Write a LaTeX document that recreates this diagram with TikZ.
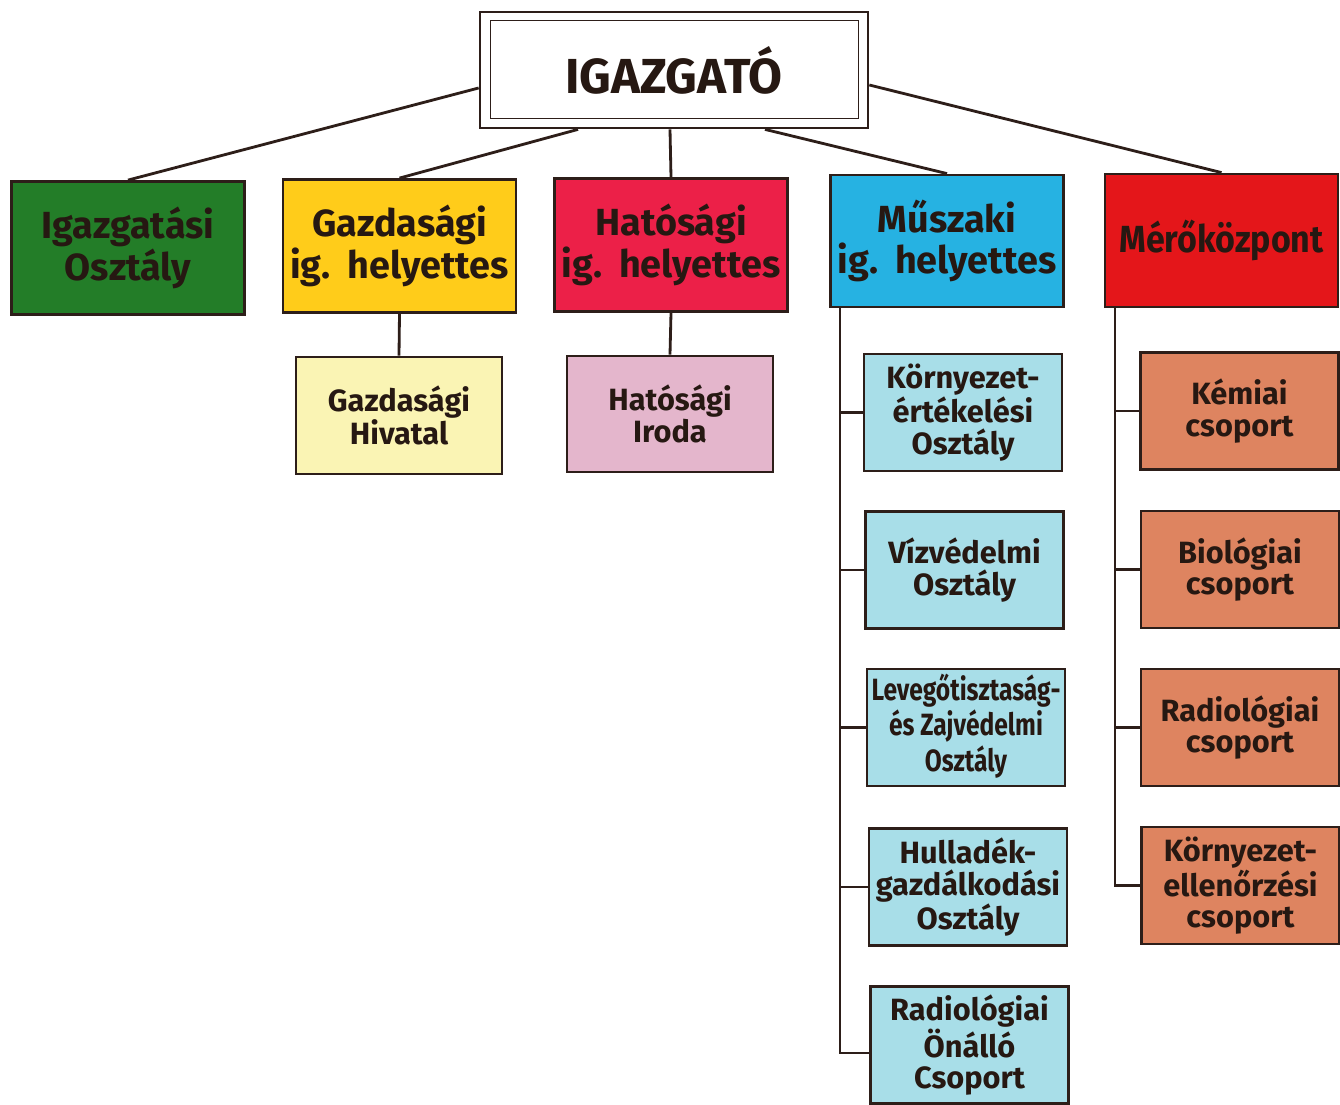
\documentclass[tikz,border=0pt]{standalone}
\usepackage{fontspec}
\setmainfont{Fira Sans}
\usepackage{graphicx}
\definecolor{bordc}{RGB}{45,30,25}
\definecolor{txtc}{RGB}{38,24,18}
\definecolor{cgreen}{RGB}{35,125,40}
\definecolor{cyellow}{RGB}{255,204,26}
\definecolor{ccrimson}{RGB}{236,32,72}
\definecolor{cblue}{RGB}{38,178,226}
\definecolor{cred}{RGB}{228,22,26}
\definecolor{cpaley}{RGB}{250,244,180}
\definecolor{cpink}{RGB}{228,182,204}
\definecolor{ccyan}{RGB}{168,222,232}
\definecolor{csalmon}{RGB}{222,132,96}
\begin{document}
\begin{tikzpicture}[x=0.02cm,y=-0.02cm,
  orgbox/.style={draw=bordc, line width=1.6pt, inner sep=0pt, align=center, text=txtc},
  lvlone/.style={orgbox, minimum width=4.66cm, minimum height=2.66cm, font=\bfseries\fontsize{21.5}{23.5}\selectfont},
  lvltwo/.style={orgbox, minimum width=4.12cm, minimum height=2.34cm, font=\bfseries\fontsize{17.5}{18.5}\selectfont},
  unitbox/.style={orgbox, minimum width=3.96cm, minimum height=2.34cm, font=\bfseries\fontsize{17.5}{18}\selectfont},
  conn/.style={draw=bordc, line width=1.6pt}]
\fill[white] (0,0) rectangle (1340,1105);
\useasboundingbox (0,0) rectangle (1340,1105);

% director
\node[orgbox, minimum width=7.76cm, minimum height=2.32cm, font=\bfseries\fontsize{28}{30}\selectfont] (dir) at (674,70) {IGAZGATÓ};
\draw[bordc, line width=0.8pt] ([shift={(12,10)}]dir.north west) rectangle ([shift={(-11,-11)}]dir.south east);

% level one
\node[lvlone, fill=cgreen] (igo) at (128,248) {Igazgatási\\Osztály};
\node[lvlone, fill=cyellow] (gih) at (399.5,246) {Gazdasági\\ig.\hspace{0.45em}helyettes};
\node[lvlone, fill=ccrimson] (hih) at (671,245) {Hatósági\\ig.\hspace{0.45em}helyettes};
\node[lvlone, fill=cblue, minimum height=2.64cm] (mih) at (947,241) {Műszaki\\ig.\hspace{0.45em}helyettes};
\node[lvlone, fill=cred] (mk) at (1221.5,240.5) {\scalebox{0.9}[1]{Mérőközpont}};

% level two
\node[lvltwo, fill=cpaley] (gh) at (399,415.5) {Gazdasági\\Hivatal};
\node[lvltwo, fill=cpink, minimum height=2.32cm] (hi) at (670,414) {Hatósági\\Iroda};

% Muszaki units
\node[unitbox, fill=ccyan] (k1) at (963,412.5) {Környezet-\\értékelési\\Osztály};
\node[unitbox, fill=ccyan] (k2) at (964.5,570) {Vízvédelmi\\Osztály};
\node[unitbox, fill=ccyan] (k3) at (966,727.5) {\scalebox{0.8}[1]{\begin{tabular}{@{}c@{}}Levegőtisztaság-\\és Zajvédelmi\\Osztály\end{tabular}}};
\node[unitbox, fill=ccyan] (k4) at (968,887) {Hulladék-\\gazdálkodási\\Osztály};
\node[unitbox, fill=ccyan] (k5) at (969.5,1045) {Radiológiai\\Önálló\\Csoport};

% Merokozpont groups
\node[unitbox, fill=csalmon] (s1) at (1239.5,411) {Kémiai\\csoport};
\node[unitbox, fill=csalmon] (s2) at (1240,569.5) {Biológiai\\csoport};
\node[unitbox, fill=csalmon] (s3) at (1240,727.5) {Radiológiai\\csoport};
\node[unitbox, fill=csalmon] (s4) at (1240.5,885.5) {Környezet-\\ellenőrzési\\csoport};

% connectors from director
\draw[conn] ([yshift=-0.36cm]dir.west) -- (igo.north);
\draw[conn] ([xshift=-1.92cm]dir.south) -- (gih.north);
\draw[conn] ([xshift=-0.08cm]dir.south) -- (hih.north);
\draw[conn] ([xshift=1.82cm]dir.south) -- (mih.north);
\draw[conn] ([yshift=-0.3cm]dir.east) -- (mk.north);

% level two connectors
\draw[conn] (gih.south) -- (gh.north);
\draw[conn] (hih.south) -- (hi.north);

% Muszaki tree
\coordinate (mtop) at (840,307);
\draw[conn] (mtop) |- ([yshift=-0.16cm]k5.west);
\foreach \n in {k1,k2,k3,k4} \draw[conn] (mtop |- \n.west) -- (\n.west);

% Merokozpont tree
\coordinate (rtop) at (1115,307);
\draw[conn] (rtop) |- (s4.west);
\foreach \n in {s1,s2,s3} \draw[conn] (rtop |- \n.west) -- (\n.west);
\end{tikzpicture}
\end{document}
